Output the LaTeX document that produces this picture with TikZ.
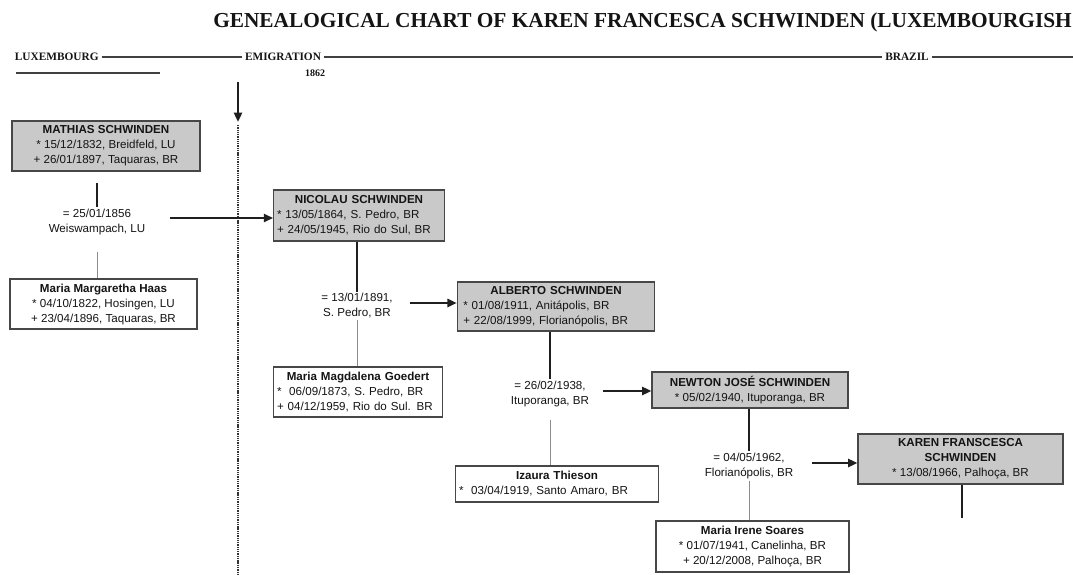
\documentclass[tikz,border=0pt]{standalone}
\usepackage{fontspec}
\setmainfont{Liberation Serif}
\newfontfamily\boxfont{Liberation Sans}
\usetikzlibrary{arrows.meta}
\setlength{\parindent}{0pt}
\begin{document}
\begin{tikzpicture}[x=0.75pt,y=-0.75pt,
  every node/.style={text=black!92},
  pbox/.style={draw=black!72, line width=0.8pt, inner xsep=2.5pt, inner ysep=2pt, font=\boxfont\fontsize{8.7}{11.25}\selectfont},
  grayfill/.style={fill=black!21},
  whitefill/.style={fill=white},
  mlabel/.style={font=\boxfont\fontsize{8.7}{11.25}\selectfont, align=center, inner sep=1pt},
  hlabel/.style={font=\bfseries\fontsize{8.5}{10}\selectfont, inner xsep=2pt, inner ysep=1pt},
  thickline/.style={line width=2.1pt, draw=black!88},
  thinline/.style={line width=0.6pt, draw=black!45},
  arr/.style={line width=1.9pt, draw=black!88, -{Triangle[length=7pt,width=6pt]}},
  rulel/.style={line width=1pt, draw=black!75},
]
\useasboundingbox (0,0) rectangle (1073,574);
\clip (0,0) rectangle (1073,574);
\fill[white] (0,0) rectangle (1073,574);

% title
\node[anchor=base west, font=\bfseries\fontsize{16}{19}\selectfont, inner sep=0pt] (title) at (213,28) {GENEALOGICAL CHART OF KAREN FRANCESCA SCHWINDEN (LUXEMBOURGISH};

% header
\node[hlabel, anchor=west] (lux) at (12,57) {LUXEMBOURG};
\node[hlabel] (emi) at (283,57) {EMIGRATION};
\node[hlabel] (bra) at (907,57) {BRAZIL};
\node[hlabel, font=\bfseries\fontsize{7.5}{9}\selectfont] (yr) at (315,73) {1862};
\coordinate (hend) at (1073,57);
\draw[rulel] (lux) -- (emi);
\draw[rulel] (emi) -- (bra);
\draw[rulel] (bra) -- (hend);
\coordinate (s1) at (16,73);
\coordinate (s2) at (160,73);
\draw[rulel] (s1) -- (s2);

% emigration arrow and dotted divider
\coordinate (e1) at (238,82);
\coordinate (e2) at (238,122);
\draw[line width=2pt, draw=black!88, -{Triangle[length=7pt,width=6pt]}] (e1) -- (e2);
\coordinate (d1) at (238,125);
\coordinate (d2) at (238,574);
\draw[line width=0.9pt, dash pattern=on 1pt off 0.7pt, black!80] (d1) -- (d2);

% generation 1
\node[pbox, grayfill, minimum width=141pt, minimum height=37.5pt, align=center] (mat) at (106,146)
  {\textbf{MATHIAS SCHWINDEN}\\{*} 15/12/1832, Breidfeld, LU\\+ 26/01/1897, Taquaras, BR};
\node[mlabel] (m1) at (97,222) {= 25/01/1856\\Weiswampach, LU};
\node[pbox, whitefill, minimum width=140.25pt, minimum height=37.5pt, align=center] (mmh) at (103.5,304)
  {\textbf{Maria Margaretha Haas}\\{*} 04/10/1822, Hosingen, LU\\+ 23/04/1896, Taquaras, BR};
\coordinate (c1) at (97,183);
\coordinate (c1b) at (97,252);
\draw[thickline] (c1) -- (m1.north);
\draw[thinline] (c1b) -- (c1b |- mmh.north);

% generation 2
\node[pbox, grayfill, text width=123pt, minimum height=38.25pt, align=left] (nic) at (359,215.5)
  {{\centering\bfseries NICOLAU SCHWINDEN\par}{*} 13/05/1864, S. Pedro, BR\\+ 24/05/1945, Rio do Sul, BR};
\coordinate (a1) at (170,218);
\draw[arr] (a1) -- (a1 -| nic.west);
\node[mlabel] (m2) at (357,306) {= 13/01/1891,\\S. Pedro, BR};
\node[pbox, whitefill, text width=121.5pt, minimum height=37.5pt, align=left] (mmg) at (358,392)
  {{\centering\bfseries Maria Magdalena Goedert\par}{*}\ \ 06/09/1873, S. Pedro, BR\\+ 04/12/1959, Rio do Sul. BR};
\draw[thickline] (m2.north |- nic.south) -- (m2.north);
\draw[thinline] (m2.south) -- (m2.south |- mmg.north);

% generation 3
\node[pbox, grayfill, text width=143pt, minimum height=36.75pt, align=left] (alb) at (556,306.5)
  {{\centering\bfseries ALBERTO SCHWINDEN\par}\hspace*{2pt}{*} 01/08/1911, Anitápolis, BR\\\hspace*{2pt}+ 22/08/1999, Florianópolis, BR};
\coordinate (a2) at (410,303);
\draw[arr] (a2) -- (a2 -| alb.west);
\node[mlabel] (m3) at (550,394) {= 26/02/1938,\\Ituporanga, BR};
\node[pbox, whitefill, text width=147pt, minimum height=27pt, align=left] (iza) at (557,484)
  {{\centering\bfseries Izaura Thieson\par}{*}\ \ 03/04/1919, Santo Amaro, BR};
\coordinate (c3b) at (550,420);
\draw[thickline] (m3.north |- alb.south) -- (m3.north);
\draw[thinline] (c3b) -- (c3b |- iza.north);

% generation 4
\node[pbox, grayfill, minimum width=147pt, minimum height=27pt, align=center] (new) at (750,390)
  {\textbf{NEWTON JOSÉ SCHWINDEN}\\{*} 05/02/1940, Ituporanga, BR};
\coordinate (a3) at (603,391);
\draw[arr] (a3) -- (a3 -| new.west);
\node[mlabel] (m4) at (749,466) {= 04/05/1962,\\Florianópolis, BR};
\node[pbox, whitefill, minimum width=144.75pt, minimum height=38.25pt, align=center] (mis) at (752.5,546.5)
  {\textbf{Maria Irene Soares}\\{*} 01/07/1941, Canelinha, BR\\+ 20/12/2008, Palhoça, BR};
\draw[thickline] (m4.north |- new.south) -- (m4.north);
\draw[thinline] (m4.south) -- (m4.south |- mis.north);

% generation 5
\node[pbox, grayfill, minimum width=153.75pt, minimum height=37.5pt, align=center] (kar) at (960.5,459)
  {\textbf{KAREN FRANSCESCA}\\\textbf{SCHWINDEN}\\{*} 13/08/1966, Palhoça, BR};
\coordinate (a4) at (812,463);
\draw[arr] (a4) -- (a4 -| kar.west);
\coordinate (k2) at (962,518);
\draw[thickline] (k2 |- kar.south) -- (k2);
\end{tikzpicture}
\end{document}
